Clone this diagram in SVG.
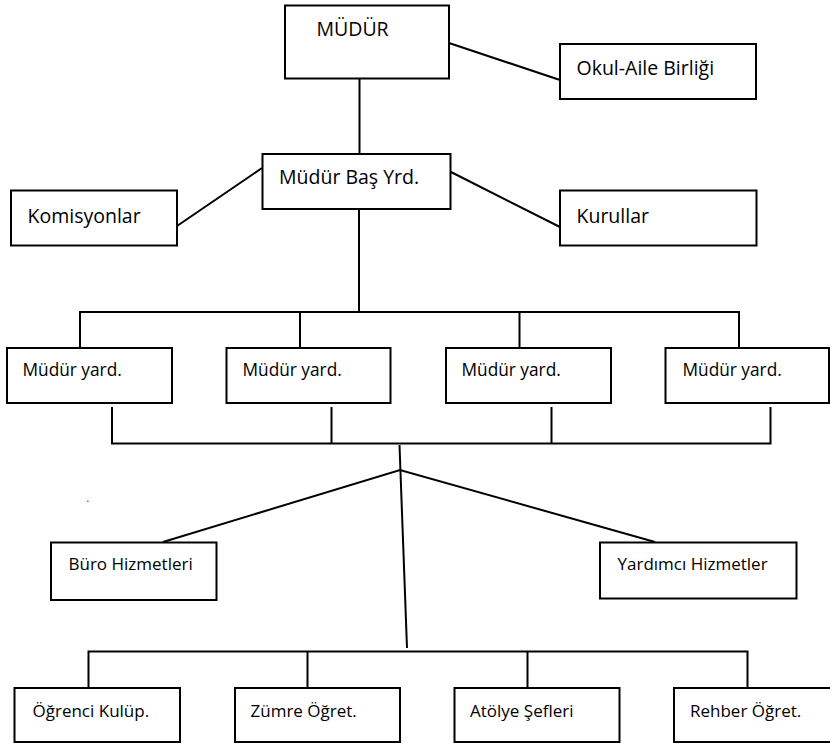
<svg xmlns="http://www.w3.org/2000/svg" width="830" height="744" viewBox="0 0 830 744">
<style>
.box{fill:#fff;stroke:#000;stroke-width:2}
.ln{fill:none;stroke:#000;stroke-width:2}
text{font-family:"Open Sans","Liberation Sans",sans-serif;fill:#000}
.big{font-size:19.5px}
.mid{font-size:17.3px}
.sm{font-size:17px}
</style>
<rect width="830" height="744" fill="#fff"/>
<g id="connectors">
<line class="ln" x1="449" y1="43" x2="560" y2="80"/>
<line class="ln" x1="359.5" y1="79" x2="359.5" y2="154"/>
<line class="ln" x1="262" y1="168" x2="177" y2="226"/>
<line class="ln" x1="451" y1="172" x2="560" y2="227"/>
<line class="ln" x1="359" y1="209" x2="359" y2="312"/>
<polyline class="ln" points="80,348 80,312 739,312 739,348"/>
<line class="ln" x1="300" y1="312" x2="300" y2="348"/>
<line class="ln" x1="519.5" y1="312" x2="519.5" y2="348"/>
<polyline class="ln" points="112,407 112,443.5 770.5,443.5 770.5,407"/>
<line class="ln" x1="331.5" y1="407" x2="331.5" y2="443.5"/>
<line class="ln" x1="551.5" y1="407" x2="551.5" y2="443.5"/>
<line class="ln" x1="399.5" y1="445" x2="407" y2="648"/>
<polyline class="ln" points="163,542 400,470 655,542"/>
<polyline class="ln" points="88.5,688 88.5,651.5 747.5,651.5 747.5,688"/>
<line class="ln" x1="307.5" y1="651.5" x2="307.5" y2="688"/>
<line class="ln" x1="527.5" y1="651.5" x2="527.5" y2="688"/>
</g>
<g id="mudur"><rect class="box" x="285" y="5.5" width="164" height="73"/><text class="big" x="316.5" y="35.5">MÜDÜR</text></g>
<g id="okul-aile"><rect class="box" x="560" y="44" width="196" height="55"/><text class="big" x="576.5" y="75">Okul-Aile Birliği</text></g>
<g id="mudur-bas-yrd"><rect class="box" x="262.5" y="154" width="188" height="55"/><text class="big" x="279" y="184">Müdür Baş Yrd.</text></g>
<g id="komisyonlar"><rect class="box" x="11" y="190.5" width="166" height="55"/><text class="big" x="27.5" y="222.5">Komisyonlar</text></g>
<g id="kurullar"><rect class="box" x="560" y="190.5" width="196.5" height="55"/><text class="big" x="576.5" y="222.5">Kurullar</text></g>
<g id="yard1"><rect class="box" x="7" y="348" width="165" height="55"/><text class="mid" x="22.5" y="376">Müdür yard.</text></g>
<g id="yard2"><rect class="box" x="226.5" y="348" width="164" height="55"/><text class="mid" x="242.5" y="376">Müdür yard.</text></g>
<g id="yard3"><rect class="box" x="446" y="348" width="165" height="55"/><text class="mid" x="461.5" y="376">Müdür yard.</text></g>
<g id="yard4"><rect class="box" x="665.5" y="348" width="163.5" height="55"/><text class="mid" x="682.5" y="376">Müdür yard.</text></g>
<g id="buro"><rect class="box" x="51" y="542.5" width="165.5" height="57.5"/><text class="sm" x="68.5" y="570">Büro Hizmetleri</text></g>
<g id="yardimci"><rect class="box" x="600" y="542.5" width="196.5" height="56"/><text class="sm" x="617.5" y="570">Yardımcı Hizmetler</text></g>
<g id="ogrenci"><rect class="box" x="14.5" y="688" width="165.5" height="54"/><text class="sm" x="32.5" y="716.5">Öğrenci Kulüp.</text></g>
<g id="zumre"><rect class="box" x="235" y="688" width="165" height="54"/><text class="sm" x="250.5" y="716.5">Zümre Öğret.</text></g>
<g id="atolye"><rect class="box" x="454.5" y="688" width="165" height="54"/><text class="sm" x="470" y="716.5">Atölye Şefleri</text></g>
<g id="rehber"><rect class="box" x="674" y="688" width="170" height="54"/><text class="sm" x="690" y="716.5">Rehber Öğret.</text></g>
<text x="86.5" y="502" style="font-size:10px">.</text>
</svg>
